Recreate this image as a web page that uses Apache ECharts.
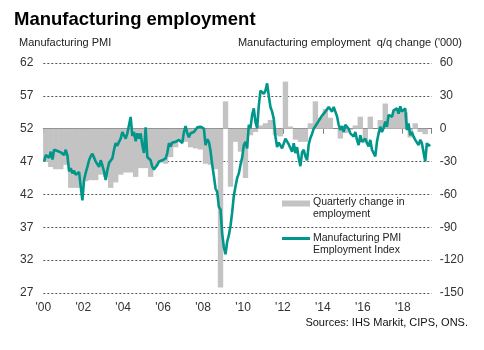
<!DOCTYPE html>
<html>
<head>
<meta charset="utf-8">
<script src="https://cdn.jsdelivr.net/npm/echarts@6/dist/echarts.min.js"></script>
<style>
html,body{margin:0;padding:0;background:#fff;}
#chart{width:484px;height:350px;}
</style>
</head>
<body>
<div id="chart"></div>
<script>
// ---- Data ----
const startYear = 2000;
// Manufacturing PMI Employment Index, monthly from Jan 2000
const pmiEmployment = [
  47.0, 48.0, 48.3, 47.6, 48.5, 47.3, 48.8, 49.1, 48.6, 48.3, 48.4, 48.5,
  48.0, 48.8, 47.9, 45.5, 46.0, 45.2, 45.6, 45.0, 45.0, 45.4, 43.2, 41.1,
  44.2, 45.3, 46.2, 47.2, 47.8, 48.2, 47.6, 47.0, 46.7, 46.2, 47.2, 46.4,
  45.5, 44.2, 45.7, 46.8, 47.0, 47.5, 48.8, 49.8, 49.4, 50.0, 50.5, 51.5,
  51.8, 50.5, 51.3, 51.5, 53.8, 50.9, 51.5, 50.1, 51.3, 50.5, 51.3, 49.5,
  48.3, 52.2, 47.7, 47.4, 47.2, 46.2, 45.8, 45.6, 46.5, 47.0, 47.1, 47.2,
  47.2, 47.5, 48.3, 49.8, 49.3, 49.9, 49.6, 50.0, 49.8, 50.3, 50.4, 49.8,
  51.5, 52.4, 51.3, 50.7, 51.3, 51.5, 51.5, 51.8, 52.2, 52.0, 52.3, 52.5,
  52.0, 49.5, 50.4, 50.0, 48.6, 46.5, 44.8, 42.9, 42.4, 40.1, 39.7, 36.0,
  34.0, 32.9, 34.8, 35.8, 37.2, 39.3, 41.8, 43.2, 44.5, 45.2, 46.5, 47.6,
  49.5, 50.0, 49.0, 52.6, 52.1, 54.1, 55.1, 53.0, 52.1, 55.5, 57.8, 58.0,
  57.3, 57.8, 58.9, 57.0, 55.3, 54.6, 53.5, 50.8, 49.2, 49.9, 50.2, 49.0,
  48.7, 50.5, 50.6, 49.6, 49.8, 48.5, 49.8, 48.3, 49.2, 47.5, 46.3, 48.4,
  48.8, 47.8, 47.2, 49.6, 50.6, 51.2, 52.0, 52.3, 52.8, 53.2, 53.6, 54.0,
  54.3, 54.6, 54.9, 55.3, 55.1, 54.6, 55.3, 54.6, 53.9, 52.6, 51.8, 52.4,
  51.5, 52.6, 52.8, 52.0, 51.3, 51.5, 50.8, 51.5, 50.3, 49.5, 51.0, 50.0,
  50.3, 50.5, 49.8, 49.3, 50.3, 48.8, 49.1, 47.8, 50.0, 51.3, 52.3, 51.5,
  52.1, 53.1, 52.3, 54.1, 54.3, 53.8, 54.8, 54.6, 55.1, 54.3, 55.4, 54.6,
  54.8, 55.1, 51.8, 52.8, 51.0, 51.5, 50.8, 50.3, 50.5, 49.5, 50.3, 49.8,
  50.0, 47.0, 49.8, 49.4, 49.6
];
// Quarterly change in manufacturing employment ('000), from 2000 Q1
const quarterlyChange = [
  -30, -35, -37, -37,
  -33, -54, -54, -54,
  -48, -47, -47, -42,
  -44, -54, -49, -42,
  -40, -40, -44, -36,
  -36, -44, -35, -31,
  -32, -26, -17, -12,
  -12, -17, -18, -19,
  -32, -33, -37, -145,
  25, -53, -12, -21,
  -45, -6, -3, 3,
  5, 8, -6, -7,
  43, 2, -10, -12,
  -12, 5, 25, 10,
  18, 10, 0, -9,
  -4, -1, 3, 11,
  -13, 11, 0, 8,
  23, 10, 17, 17,
  15, -8, 5, -3,
  -5
];
const leftTicks = {min: 27, max: 62, interval: 5};
const rightTicks = {min: -150, max: 60, interval: 30};
const xEndYears = 19.45; // axis runs to roughly mid-2019

const barName = 'Quarterly change in\nemployment';
const lineName = 'Manufacturing PMI\nEmployment Index';

const lineData = pmiEmployment.map((v, i) => [(i + 0.5) / 12, v]);
const barData = quarterlyChange.map((v, i) => [(i + 0.5) / 4, v]);

const FONT = 'Liberation Sans, Arial, sans-serif';
const W = 484, H = 350;
const grid = {left: 43.3, right: 52.3, top: 63, bottom: 57};
const plotW = W - grid.left - grid.right;
const quarterPx = plotW / xEndYears / 4;
const BAR = '#c3c3c3', LINE = '#00968a';

const chart = echarts.init(document.getElementById('chart'));
chart.setOption({
  animation: false,
  textStyle: {fontFamily: FONT},
  title: [
    {text: 'Manufacturing employment', left: 14, top: 10, padding: 0,
     textStyle: {fontFamily: FONT, fontSize: 18.5, fontWeight: 'bold', color: '#000'}},
    {text: 'Manufacturing PMI', left: 19, top: 37, padding: 0,
     textStyle: {fontFamily: FONT, fontSize: 11, fontWeight: 'normal', color: '#222'}},
    {text: "Manufacturing employment  q/q change ('000)", right: 22, top: 37, padding: 0,
     textStyle: {fontFamily: FONT, fontSize: 11, fontWeight: 'normal', color: '#222'}},
    {text: 'Sources: IHS Markit, CIPS, ONS.', right: 16, top: 317, padding: 0,
     textStyle: {fontFamily: FONT, fontSize: 11, fontWeight: 'normal', color: '#111'}}
  ],
  grid: Object.assign({containLabel: false}, grid),
  xAxis: {
    type: 'value', min: 0, max: xEndYears, interval: 2,
    axisLine: {show: true, lineStyle: {color: '#7f7f7f', width: 1}},
    axisTick: {show: true, length: 5, lineStyle: {color: '#7f7f7f'}},
    splitLine: {show: false},
    axisLabel: {
      color: '#333', fontSize: 12, margin: 9, fontFamily: FONT,
      formatter: v => (Math.abs(v - Math.round(v)) < 1e-6 && Math.round(v) % 2 === 0)
        ? "'" + String((startYear + Math.round(v)) % 100).padStart(2, '0') : ''
    }
  },
  yAxis: [
    {
      type: 'value', min: leftTicks.min, max: leftTicks.max, interval: leftTicks.interval,
      axisLine: {show: false}, axisTick: {show: false},
      axisLabel: {color: '#333', fontSize: 12, margin: 10, fontFamily: FONT},
      splitLine: {show: true, lineStyle: {color: '#555', type: [2, 2], width: 1}}
    },
    {
      type: 'value', min: rightTicks.min, max: rightTicks.max, interval: rightTicks.interval,
      axisLine: {show: false}, axisTick: {show: false},
      axisLabel: {color: '#333', fontSize: 12, margin: 8, fontFamily: FONT, align: 'left'},
      splitLine: {show: false}
    }
  ],
  graphic: [
    {type: 'rect', shape: {x: 282, y: 200.5, width: 28, height: 6}, style: {fill: BAR}, z: 10},
    {type: 'text', x: 313, y: 196.7, z: 10,
     style: {text: barName, font: '10.5px ' + FONT, fill: '#222', lineHeight: 11.7, verticalAlign: 'top'}},
    {type: 'line', shape: {x1: 282, y1: 238.5, x2: 310, y2: 238.5}, style: {stroke: LINE, lineWidth: 3}, z: 10},
    {type: 'text', x: 313, y: 232.3, z: 10,
     style: {text: lineName, font: '10.5px ' + FONT, fill: '#222', lineHeight: 12.2, verticalAlign: 'top'}}
  ],
  series: [
    {
      name: barName, type: 'bar', yAxisIndex: 1, data: barData,
      barWidth: quarterPx + 0.4, itemStyle: {color: BAR}, z: 2
    },
    {
      name: lineName, type: 'line', yAxisIndex: 0, data: lineData,
      showSymbol: false, symbol: 'none',
      lineStyle: {color: LINE, width: 2.6}, itemStyle: {color: LINE}, z: 3
    }
  ]
});
</script>
</body>
</html>
